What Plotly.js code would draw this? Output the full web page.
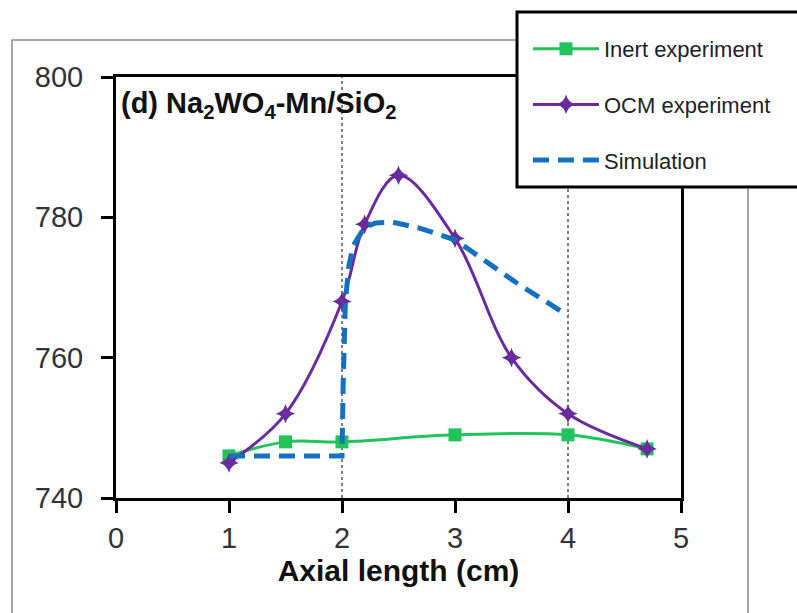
<!DOCTYPE html>
<html>
<head>
<meta charset="utf-8">
<script src="https://cdn.plot.ly/plotly-3.0.1.min.js"></script>
<style>
html,body{margin:0;padding:0;background:#fff;}
#chart{width:797px;height:613px;}
</style>
</head>
<body>
<div id="chart"></div>
<script>
// Inert experiment
const inertX = [1, 1.5, 2, 3, 4, 4.7];
const inertY = [746, 748, 748, 749, 749, 747];
// OCM experiment
const ocmX = [1, 1.5, 2, 2.2, 2.5, 3, 3.5, 4, 4.7];
const ocmY = [745, 752, 768, 779, 786, 777, 760, 752, 747];
// Simulation
const simX = [1, 2, 2.01, 2.03, 2.06, 2.1, 2.2, 2.3, 2.45, 2.7, 3, 3.55, 4];
const simY = [746, 746, 756, 768, 773, 776, 778.6, 779.2, 779.3, 778.4, 776.8, 770.6, 766];
// Reaction zone boundaries (dotted lines)
const zoneBounds = [2, 4];
const xTicks = [0, 1, 2, 3, 4, 5];
const yTicks = [740, 760, 780, 800];

const FONT = 'Liberation Sans, Arial, sans-serif';
const W = 797, H = 613, L = 116, R = 116, T = 77, B = 115;
const pw = W - L - R, ph = H - T - B;
const px = v => (v - L) / pw;      // pixel x -> paper
const py = v => (H - B - v) / ph;  // pixel y -> paper

const traces = [
  {x: inertX, y: inertY, name: 'Inert experiment', mode: 'lines+markers',
   line: {color: '#22c35a', width: 3, shape: 'spline', smoothing: 1},
   marker: {symbol: 'square', size: 13, color: '#22c35a'}},
  {x: ocmX, y: ocmY, name: 'OCM experiment', mode: 'lines+markers',
   line: {color: '#6a2c9c', width: 3, shape: 'spline', smoothing: 1},
   marker: {symbol: 'star-diamond', size: 14, color: '#6a2c9c'}},
  {x: simX, y: simY, name: 'Simulation', mode: 'lines',
   line: {color: '#1570c0', width: 5, dash: '16px,9px'}}
];

const shapes = [
  // outer gray frame
  {type: 'rect', xref: 'paper', yref: 'paper', x0: px(12), x1: px(748), y0: py(640), y1: py(40),
   line: {color: '#8a8a8a', width: 1.5}, fillcolor: 'rgba(0,0,0,0)', layer: 'below'}
];
zoneBounds.forEach(b => shapes.push({type: 'line', xref: 'x', yref: 'paper', x0: b, x1: b, y0: 0, y1: 1,
  line: {color: '#555', width: 1.5, dash: 'dot'}, layer: 'below'}));
// legend box
shapes.push({type: 'rect', xref: 'paper', yref: 'paper', x0: px(517), x1: px(830), y0: py(187), y1: py(12),
  line: {color: '#000', width: 3}, fillcolor: '#fff', layer: 'above'});

const layout = {
  width: W, height: H,
  margin: {l: L, r: R, t: T, b: B, autoexpand: false},
  paper_bgcolor: '#fff', plot_bgcolor: '#fff',
  font: {family: FONT, color: '#333'},
  showlegend: true,
  legend: {x: px(528), y: py(28), xanchor: 'left', yanchor: 'top', bgcolor: 'rgba(0,0,0,0)', borderwidth: 0,
    font: {family: FONT, size: 22, color: '#222'}, itemwidth: 66, traceorder: 'grouped', tracegroupgap: 24},
  xaxis: {range: [0, 5], tickvals: xTicks, ticktext: xTicks.map(String), showline: true, linewidth: 3, linecolor: '#000', mirror: true,
    ticks: 'outside', ticklen: 12, tickwidth: 3, tickcolor: '#000', showgrid: false, zeroline: false,
    tickfont: {family: FONT, size: 29, color: '#333'},
    title: {text: '<b>Axial length (cm)</b>', font: {family: FONT, size: 30, color: '#111'}, standoff: 4}},
  yaxis: {range: [740, 800], tickvals: yTicks, ticktext: yTicks.map(String), showline: true, linewidth: 3, linecolor: '#000', mirror: true,
    ticks: 'outside', ticklen: 12, tickwidth: 3, tickcolor: '#000', showgrid: false, zeroline: false,
    ticklabelstandoff: 12,
    tickfont: {family: FONT, size: 29, color: '#333'}},
  shapes: shapes,
  annotations: [
    {xref: 'paper', yref: 'paper', x: px(119), y: py(85), xanchor: 'left', yanchor: 'top', showarrow: false,
     text: '<b>(d) Na<sub>2</sub>WO<sub>4</sub>-Mn/SiO<sub>2</sub></b>', font: {family: FONT, size: 29, color: '#111'}}
  ]
};
traces.forEach((t, i) => t.legendgroup = 'g' + i);
Plotly.newPlot('chart', traces, layout, {displayModeBar: false, staticPlot: true});
</script>
</body>
</html>
